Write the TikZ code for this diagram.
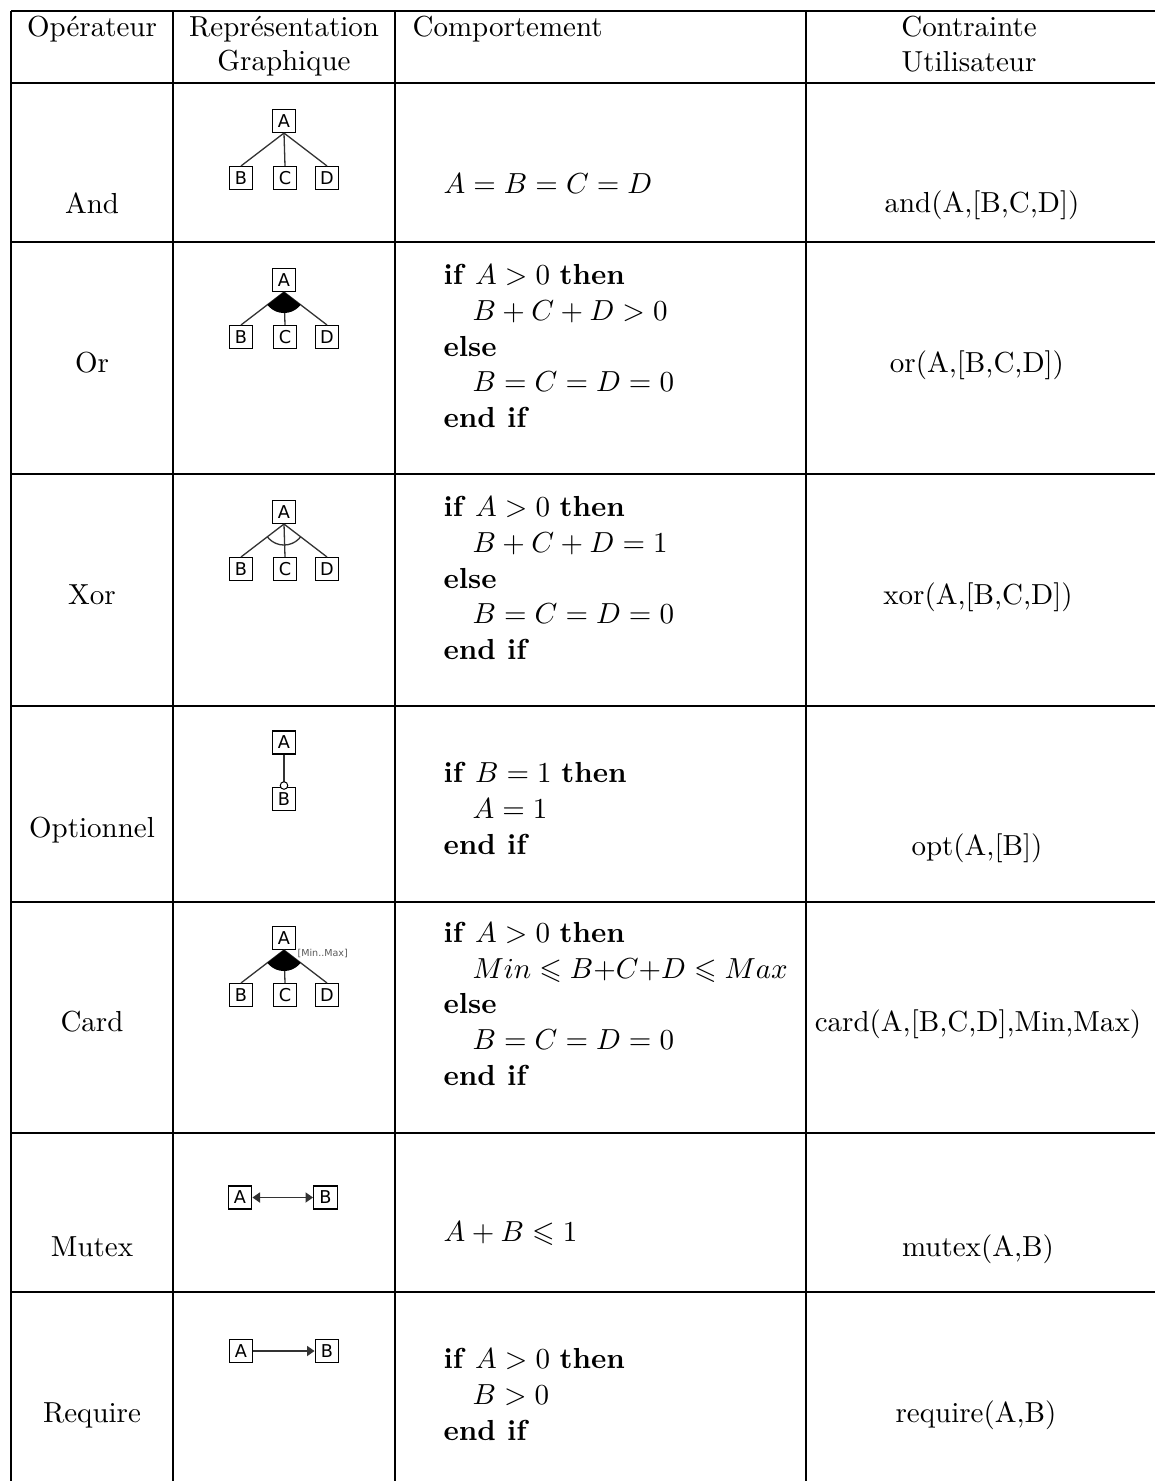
\documentclass[tikz,border=0pt]{standalone}
\usepackage{amsmath,amssymb}
\usepackage{fontspec}
\newfontfamily\boxfont{DejaVu Sans}
\usetikzlibrary{arrows.meta}
\tikzset{
  feat/.style={draw, line width=0.4pt, minimum width=8.2pt, minimum height=7.9pt,
    inner sep=0pt, font=\boxfont\fontsize{6.1}{6}\selectfont},
  link/.style={draw=black!80, line width=0.45pt},
  ftip/.tip={Triangle[length=2.6pt,width=3.5pt]},
  algo/.style={anchor=base west, inner sep=0pt},
  mid/.style={anchor=base, inner sep=0pt},
  rule/.style={line width=0.4pt},
}
\begin{document}
\begin{tikzpicture}[x=0.345pt, y=-0.345pt]
\useasboundingbox (0,0) rectangle (1155,1481);
% table rules
\foreach \y in {11,83,242,474,706,902,1133,1292}
  \draw[rule] (11,\y) -- (1155,\y);
\foreach \x in {11,173,395,806}
  \draw[rule] (\x,11) -- (\x,1481);

% header
\node[mid] (hOp) at (92,36) {Opérateur};
\node[mid] (hRepA) at (284,36) {Représentation};
\node[mid] (hRepB) at (284,70) {Graphique};
\node[algo] (hComp) at (412,36) {Comportement};
\node[mid] (hConA) at (969,36) {Contrainte};
\node[mid] (hConB) at (969,71) {Utilisateur};

% operators
\node[mid] (opAnd) at (92,213) {And};
\node[mid] (opOr) at (92,372) {Or};
\node[mid] (opXor) at (92,604) {Xor};
\node[mid] (opOpt) at (92,837) {Optionnel};
\node[mid] (opCard) at (92,1031) {Card};
\node[mid] (opMutex) at (92,1256) {Mutex};
\node[mid] (opReq) at (92,1422) {Require};

% trees
\foreach \r/\y in {and/121, or/280, xor/512, card/938}{
  \node[feat] (\r A) at (284,\y) {A};
  \node[feat] (\r B) at (241,\y+57) {B};
  \node[feat] (\r C) at (285,\y+57) {C};
  \node[feat] (\r D) at (327,\y+57) {D};
  \foreach \c in {B,C,D}
    \draw[link] (\r A.south) -- (\r\c.north);
}
\begin{scope}
  \clip (orA.south) -- (orB.north) -- (orD.north) -- cycle;
  \fill (orA.south) circle[radius=21];
\end{scope}
\begin{scope}
  \clip (xorA.south) -- (xorB.north) -- (xorD.north) -- cycle;
  \draw[link] (xorA.south) circle[radius=21];
\end{scope}
\begin{scope}
  \clip (cardA.south) -- (cardB.north) -- (cardD.north) -- cycle;
  \fill (cardA.south) circle[radius=21];
\end{scope}
\node[anchor=west, inner sep=0pt, text=black!65, font=\boxfont\fontsize{3.3}{4}\selectfont]
  (cardL) at (297,953) {[Min..Max]};

% optional
\node[feat] (optA) at (284,742.5) {A};
\node[feat] (optB) at (284,799) {B};
\draw[link] (optA) -- (optB);
\node[circle, draw, fill=white, line width=0.35pt, inner sep=0pt, minimum size=2.6pt]
  (optO) at ([yshift=0.5pt]optB.north) {};

% mutex and require
\node[feat] (mutA) at (240,1197.5) {A};
\node[feat] (mutB) at (325.5,1197.5) {B};
\draw[link, ftip-ftip] (mutA) -- (mutB);
\node[feat] (reqA) at (241,1351) {A};
\node[feat] (reqB) at (327,1351) {B};
\draw[link, -ftip] (reqA) -- (reqB);

% behaviour
\node[algo] (bAnd) at (443,193) {$A = B = C = D$};
\node[algo] (bOr1) at (443,284) {\textbf{if} $A > 0$ \textbf{then}};
\node[algo] (bOr2) at (472,320) {$B + C + D > 0$};
\node[algo] (bOr3) at (443,356) {\textbf{else}};
\node[algo] (bOr4) at (472,391) {$B = C = D = 0$};
\node[algo] (bOr5) at (443,427) {\textbf{end if}};
\node[algo] (bXor1) at (443,516) {\textbf{if} $A > 0$ \textbf{then}};
\node[algo] (bXor2) at (472,552) {$B + C + D = 1$};
\node[algo] (bXor3) at (443,588) {\textbf{else}};
\node[algo] (bXor4) at (472,623) {$B = C = D = 0$};
\node[algo] (bXor5) at (443,659) {\textbf{end if}};
\node[algo] (bOpt1) at (443,782) {\textbf{if} $B = 1$ \textbf{then}};
\node[algo] (bOpt2) at (472,818) {$A = 1$};
\node[algo] (bOpt3) at (443,854) {\textbf{end if}};
\node[algo] (bCard1) at (443,942) {\textbf{if} $A > 0$ \textbf{then}};
\node[algo] (bCard2) at (472,978) {$Min \leqslant B{+}C{+}D \leqslant Max$};
\node[algo] (bCard3) at (443,1013) {\textbf{else}};
\node[algo] (bCard4) at (472,1049) {$B = C = D = 0$};
\node[algo] (bCard5) at (443,1085) {\textbf{end if}};
\node[algo] (bMutex) at (443,1241) {$A + B \leqslant 1$};
\node[algo] (bReq1) at (443,1368) {\textbf{if} $A > 0$ \textbf{then}};
\node[algo] (bReq2) at (472,1404) {$B > 0$};
\node[algo] (bReq3) at (443,1440) {\textbf{end if}};

% constraints
\node[mid] (cAnd) at (982,212) {and(A,[B,C,D])};
\node[mid] (cOr) at (977,372) {or(A,[B,C,D])};
\node[mid] (cXor) at (978,604) {xor(A,[B,C,D])};
\node[mid] (cOpt) at (977,855) {opt(A,[B])};
\node[mid] (cCard) at (978,1031) {card(A,[B,C,D],Min,Max)};
\node[mid] (cMutex) at (978,1256) {mutex(A,B)};
\node[mid] (cReq) at (976,1422) {require(A,B)};
\end{tikzpicture}
\end{document}
